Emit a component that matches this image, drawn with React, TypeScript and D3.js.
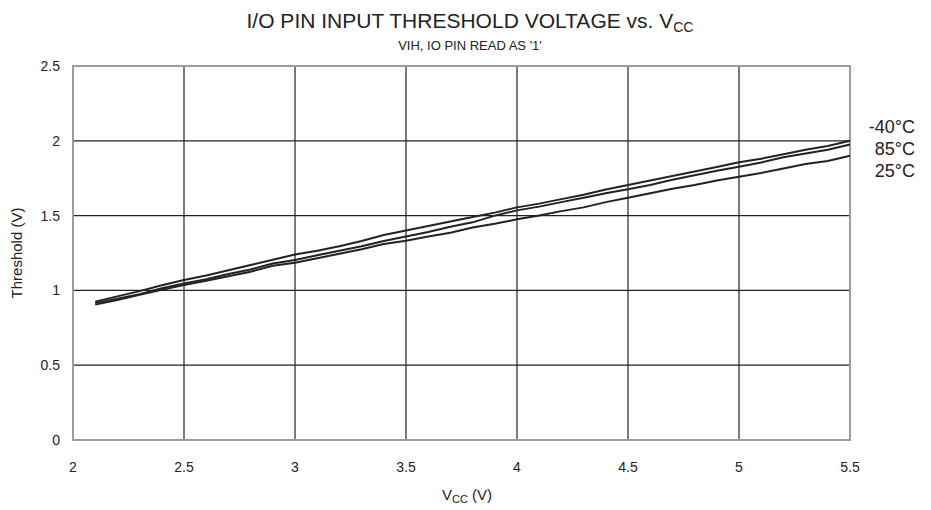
import React from "react";
import * as d3 from "d3";

const vcc = [2.1, 2.2, 2.3, 2.4, 2.5, 2.6, 2.7, 2.8, 2.9, 3.0, 3.1, 3.2, 3.3, 3.4, 3.5, 3.6, 3.7, 3.8, 3.9, 4.0, 4.1, 4.2, 4.3, 4.4, 4.5, 4.6, 4.7, 4.8, 4.9, 5.0, 5.1, 5.2, 5.3, 5.4, 5.5];
const tM40 = [0.925, 0.96, 0.995, 1.035, 1.07, 1.1, 1.135, 1.17, 1.205, 1.24, 1.265, 1.295, 1.33, 1.37, 1.4, 1.43, 1.46, 1.49, 1.52, 1.555, 1.58, 1.61, 1.64, 1.675, 1.705, 1.735, 1.765, 1.795, 1.825, 1.856, 1.88, 1.91, 1.94, 1.965, 2.0];
const t85 = [0.915, 0.945, 0.975, 1.015, 1.047, 1.075, 1.11, 1.14, 1.18, 1.203, 1.235, 1.265, 1.295, 1.33, 1.36, 1.39, 1.425, 1.455, 1.5, 1.535, 1.56, 1.59, 1.62, 1.65, 1.676, 1.705, 1.74, 1.77, 1.8, 1.827, 1.855, 1.89, 1.915, 1.94, 1.975];
const t25 = [0.905, 0.935, 0.97, 1.005, 1.036, 1.065, 1.095, 1.125, 1.165, 1.185, 1.215, 1.245, 1.275, 1.31, 1.332, 1.36, 1.385, 1.42, 1.445, 1.475, 1.5, 1.53, 1.555, 1.59, 1.62, 1.65, 1.68, 1.705, 1.735, 1.76, 1.785, 1.815, 1.845, 1.865, 1.9];
const seriesNames = ["-40°C", "85°C", "25°C"];
const xTicks = [2, 2.5, 3, 3.5, 4, 4.5, 5, 5.5];
const yTicks = [0, 0.5, 1, 1.5, 2, 2.5];

export default function App() {
  const W = 931, H = 510;
  const x = d3.scaleLinear().domain([2, 5.5]).range([73, 850]);
  const y = d3.scaleLinear().domain([0, 2.5]).range([440, 66]);
  const line = d3.line<number>().x((_, i) => x(vcc[i])).y((d) => y(d));
  const series = [tM40, t85, t25];
  const font = "'Liberation Sans', Arial, sans-serif";
  return (
    <svg width={W} height={H} style={{ position: "absolute", left: 0, top: 0, background: "#fff" }} fontFamily={font}>
      <rect width={W} height={H} fill="#fff" />
      {xTicks.slice(1, -1).map((t) => (
        <line key={"gx" + t} x1={x(t)} x2={x(t)} y1={y(2.5)} y2={y(0)} stroke="#222" strokeWidth={1.2} />
      ))}
      {yTicks.slice(1, -1).map((t) => (
        <line key={"gy" + t} x1={x(2)} x2={x(5.5)} y1={y(t)} y2={y(t)} stroke="#222" strokeWidth={1.2} />
      ))}
      <rect x={x(2)} y={y(2.5)} width={x(5.5) - x(2)} height={y(0) - y(2.5)} fill="none" stroke="#9a9ea4" strokeWidth={2} />
      {series.map((s, i) => (
        <path key={i} d={line(s) || ""} fill="none" stroke="#222" strokeWidth={2} />
      ))}
      {xTicks.map((t) => (
        <text key={"tx" + t} x={x(t)} y={472} textAnchor="middle" fontSize={14} fill="#222">{t}</text>
      ))}
      {yTicks.map((t) => (
        <text key={"ty" + t} x={60} y={y(t) + 5} textAnchor="end" fontSize={14} fill="#222">{t}</text>
      ))}
      {seriesNames.map((n, i) => (
        <text key={n} x={915} y={133 + i * 22} textAnchor="end" fontSize={18} fill="#222">{n}</text>
      ))}
      <text x={470} y={28} textAnchor="middle" fontSize={21} fill="#222">
        I/O PIN INPUT THRESHOLD VOLTAGE vs. V<tspan fontSize={14} dy={4}>CC</tspan>
      </text>
      <text x={470} y={50} textAnchor="middle" fontSize={13} fill="#222">VIH, IO PIN READ AS '1'</text>
      <text x={467} y={500} textAnchor="middle" fontSize={15} fill="#222">
        V<tspan fontSize={11} dy={3}>CC</tspan><tspan dy={-3}> (V)</tspan>
      </text>
      <text transform="translate(22,253) rotate(-90)" textAnchor="middle" fontSize={15} fill="#222">Threshold (V)</text>
    </svg>
  );
}
